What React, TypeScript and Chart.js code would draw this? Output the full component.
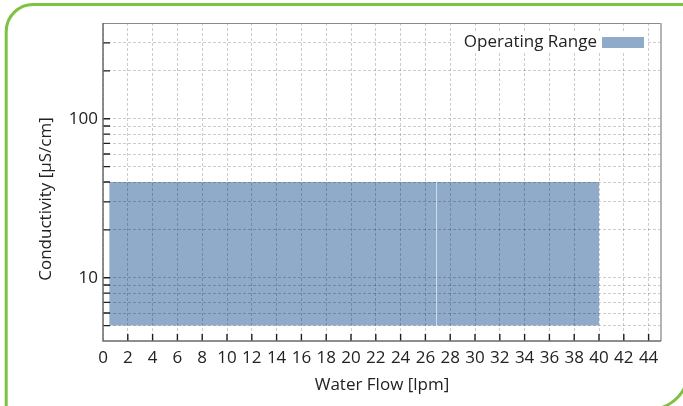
import React, { useEffect, useRef } from "react";
import { Chart, registerables } from "chart.js";

Chart.register(...registerables);

// ---- data ----
const seriesLabel = "Operating Range";
const flowBounds = [0.5, 26.9, 40]; // water flow segment edges [lpm]
const conductivityUpper = [40, 40]; // µS/cm
const conductivityLower = [5, 5]; // µS/cm
const xTicks = [0, 2, 4, 6, 8, 10, 12, 14, 16, 18, 20, 22, 24, 26, 28, 30, 32, 34, 36, 38, 40, 42, 44];
const yTicks = [5, 6, 7, 8, 9, 10, 20, 30, 40, 50, 60, 70, 80, 90, 100, 200, 300];
const yLabels = [10, 100];
const xRange = [0, 45];
const yRange = [4, 400];
const xTitle = "Water Flow [lpm]";
const yTitle = "Conductivity [µS/cm]";

const FONT = "'Open Sans', 'Noto Sans', sans-serif";
const FILL = "#8FABC9";
const TEXT = "#222";

const decorPlugin = {
  id: "decor",
  afterDraw(chart: any) {
    const { ctx, chartArea: a, scales } = chart;
    ctx.save();
    // inward tick marks
    ctx.strokeStyle = "#1e1e1e";
    ctx.lineWidth = 1.4;
    ctx.beginPath();
    for (const v of xTicks) {
      if (v <= xRange[0]) continue;
      const px = scales.x.getPixelForValue(v);
      ctx.moveTo(px, a.bottom);
      ctx.lineTo(px, a.bottom - 7);
    }
    for (const v of yTicks) {
      const py = scales.y.getPixelForValue(v);
      ctx.moveTo(a.left, py);
      ctx.lineTo(a.left + 7, py);
    }
    ctx.stroke();

    // frame
    ctx.lineWidth = 1;
    ctx.strokeStyle = "#8a8a8a";
    ctx.beginPath();
    ctx.moveTo(a.left, a.top + 0.5);
    ctx.lineTo(a.right, a.top + 0.5);
    ctx.stroke();
    ctx.lineWidth = 2;
    ctx.strokeStyle = "#b4b4b4";
    ctx.beginPath();
    ctx.moveTo(a.right, a.top);
    ctx.lineTo(a.right, a.bottom);
    ctx.stroke();
    ctx.lineWidth = 1.5;
    ctx.strokeStyle = "#6a6a6a";
    ctx.beginPath();
    ctx.moveTo(a.left, a.top);
    ctx.lineTo(a.left, a.bottom);
    ctx.lineTo(a.right, a.bottom);
    ctx.stroke();

    // legend (text then box, inside the plot, top right)
    const ds = chart.data.datasets[0];
    ctx.fillStyle = "#fff";
    ctx.fillRect(a.right - 206, a.top + 8, 191, 22);
    ctx.font = `17px ${FONT}`;
    ctx.fillStyle = TEXT;
    ctx.textAlign = "right";
    ctx.textBaseline = "middle";
    ctx.fillText(ds.label, a.right - 64, a.top + 19.5);
    ctx.fillStyle = ds.backgroundColor;
    ctx.fillRect(a.right - 59, a.top + 14, 42, 11);

    // y axis title
    ctx.translate(46.5, (a.top + a.bottom) / 2 + 17);
    ctx.rotate(-Math.PI / 2);
    ctx.textAlign = "center";
    ctx.fillStyle = TEXT;
    ctx.fillText(yTitle, 0, 0);
    ctx.restore();
  },
};

export default function App() {
  const canvasRef = useRef<HTMLCanvasElement | null>(null);

  useEffect(() => {
    if (!canvasRef.current) return;
    const datasets = conductivityUpper.map((up, i) => ({
      label: seriesLabel,
      data: [
        { x: flowBounds[i], y: up },
        { x: flowBounds[i + 1], y: up },
      ],
      fill: { value: conductivityLower[i] },
      backgroundColor: FILL,
      borderColor: "rgba(0,0,0,0)",
      borderWidth: 0,
      pointRadius: 0,
      tension: 0,
    }));

    const gridOpts = { color: "rgba(0,0,0,0.2)", lineWidth: 1, drawTicks: false, z: 1 };
    const borderOpts = { display: false, dash: [3, 2] };

    const chart = new Chart(canvasRef.current, {
      type: "line",
      data: { datasets },
      plugins: [decorPlugin],
      options: {
        animation: false,
        responsive: true,
        maintainAspectRatio: false,
        devicePixelRatio: 1,
        layout: { padding: { top: 23, right: 22, left: 0, bottom: 0 } },
        plugins: { legend: { display: false }, tooltip: { enabled: false } },
        scales: {
          x: {
            type: "linear",
            min: xRange[0],
            max: xRange[1],
            z: 1,
            afterBuildTicks: (s: any) => {
              s.ticks = xTicks.map((v) => ({ value: v }));
            },
            afterFit: (s: any) => {
              s.height = 65;
            },
            grid: gridOpts,
            border: borderOpts,
            ticks: {
              autoSkip: false,
              maxRotation: 0,
              minRotation: 0,
              padding: 7,
              color: TEXT,
              font: { family: FONT, size: 17 },
              callback: (v: any) => String(v),
            },
            title: {
              display: true,
              text: xTitle,
              color: TEXT,
              font: { family: FONT, size: 17 },
              padding: { top: 0, bottom: 11 },
            },
          },
          y: {
            type: "logarithmic",
            min: yRange[0],
            max: yRange[1],
            z: 1,
            afterBuildTicks: (s: any) => {
              s.ticks = yTicks.map((v) => ({ value: v }));
            },
            afterFit: (s: any) => {
              s.width = 103;
            },
            grid: gridOpts,
            border: borderOpts,
            ticks: {
              autoSkip: false,
              padding: 5,
              color: TEXT,
              font: { family: FONT, size: 17 },
              callback: (v: any) => (yLabels.includes(Number(v)) ? String(v) : ""),
            },
            title: { display: false },
          },
        },
      } as any,
    });
    return () => chart.destroy();
  }, []);

  return (
    <div style={{ position: "fixed", left: 0, top: 0, width: 683, height: 406, background: "#fff", overflow: "hidden" }}>
      <canvas ref={canvasRef} width={683} height={406} />
      <svg
        width={683}
        height={406}
        style={{ position: "absolute", left: 0, top: 0, pointerEvents: "none" }}
      >
        <path d="M 6.2 420 L 6.2 31.5 A 27 27 0 0 1 33.2 4.5 L 700 4.5" fill="none" stroke="#7DC242" strokeWidth={3} />
        <path d="M 658.6 408.6 A 41 41 0 0 0 688.4 376" fill="none" stroke="#7DC242" strokeWidth={3} />
      </svg>
    </div>
  );
}
